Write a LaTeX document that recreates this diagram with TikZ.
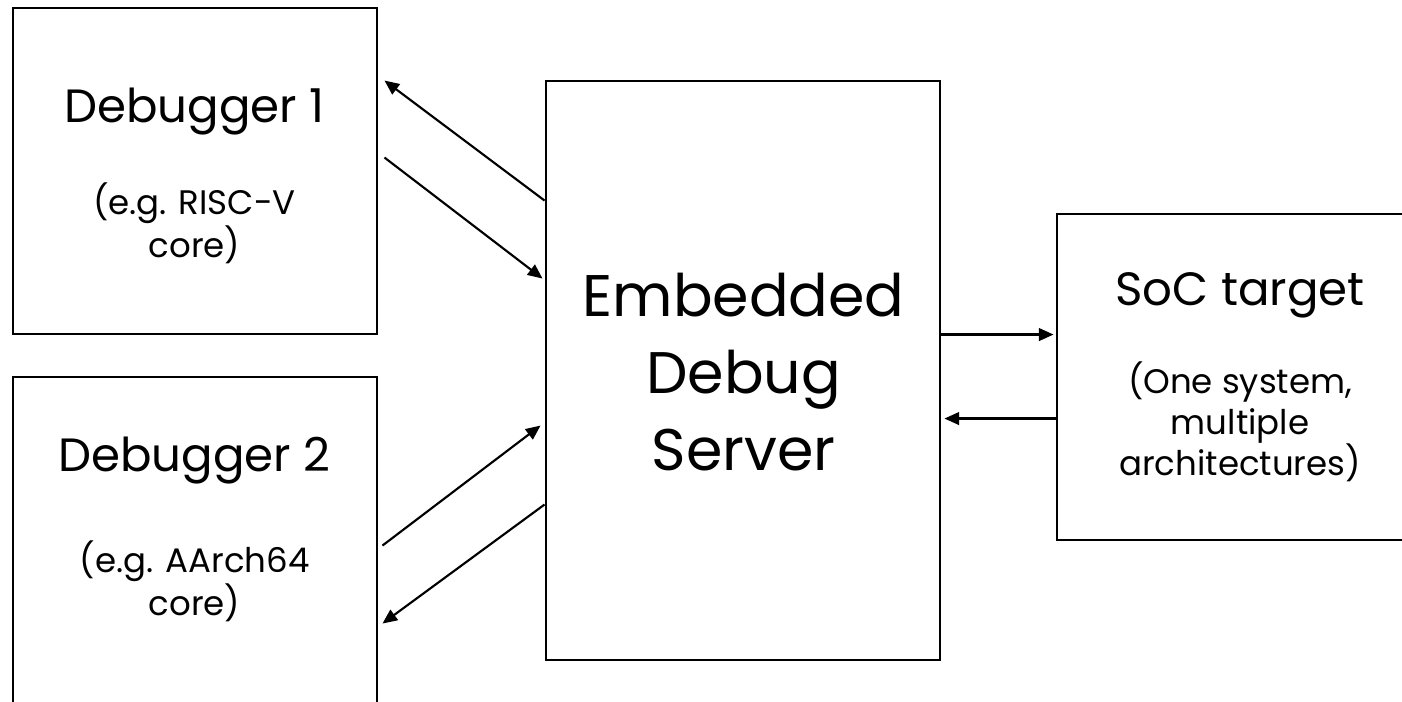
\documentclass[tikz,border=0pt]{standalone}
\usepackage{fontspec}
\setmainfont{Poppins}
\usetikzlibrary{arrows.meta,calc}

\begin{document}
\begin{tikzpicture}[x=0.75pt,y=-0.75pt,
  blk/.style={draw=black, line width=2.2pt, inner sep=0pt, fill=none},
  link/.style={line width=1.6pt, -{Triangle[length=11pt,width=9.5pt]}},
  title/.style={anchor=base, inner sep=0pt, font=\fontsize{35pt}{40pt}\selectfont},
  big/.style={anchor=base, inner sep=0pt, align=center, font=\fontsize{44pt}{57.75pt}\selectfont},
  note/.style={anchor=base, inner sep=0pt, align=center, font=\fontsize{25.5pt}{30.5pt}\selectfont}]

  \useasboundingbox (0,0) rectangle (1402,701);

  % blocks
  \node[blk, minimum width=364*0.75pt, minimum height=326*0.75pt] (dbg1) at (195,171) {};
  \node[blk, minimum width=364*0.75pt, minimum height=326*0.75pt] (dbg2) at (195,540) {};
  \node[blk, minimum width=394*0.75pt, minimum height=579*0.75pt] (srv) at (743,370.5) {};
  \node[blk, minimum width=366*0.75pt, minimum height=326*0.75pt] (soc) at (1240,377) {};

  % labels (multi-line labels are anchored on their last baseline)
  \node[title] (dbg1t) at (194.5,122) {Debugger 1};
  \node[note]  (dbg1n) at (194.5,257) {(e.g. RISC-V\\core)};
  \node[title] (dbg2t) at (194.5,471) {Debugger 2};
  \node[note]  (dbg2n) at (194.5,615) {(e.g. AArch64\\core)};
  \node[big]   (srvt)  at (743.5,470) {Embedded\\Debug\\Server};
  \node[title] (soct)  at (1240,305) {SoC target};
  \node[note]  (socn)  at (1240,475) {(One system,\\multiple\\architectures)};

  % debugger <-> server
  \draw[link] ($(srv.north west)+(0,121)$) -- ($(dbg1.north east)+(6,74)$);
  \draw[link] ($(dbg1.north east)+(6,151)$) -- ($(srv.north west)+(-2,199)$);
  \draw[link] ($(dbg2.north east)+(4,170)$) -- ($(srv.north west)+(-4,346)$);
  \draw[link] ($(srv.north west)+(0,425)$) -- ($(dbg2.north east)+(4,248)$);

  % server <-> target
  \draw[link] ($(srv.north east)+(0,255)$) -- ($(soc.north west)+(-2,122)$);
  \draw[link] ($(soc.north west)+(0,206)$) -- ($(srv.north east)+(3,339)$);
\end{tikzpicture}
\end{document}
